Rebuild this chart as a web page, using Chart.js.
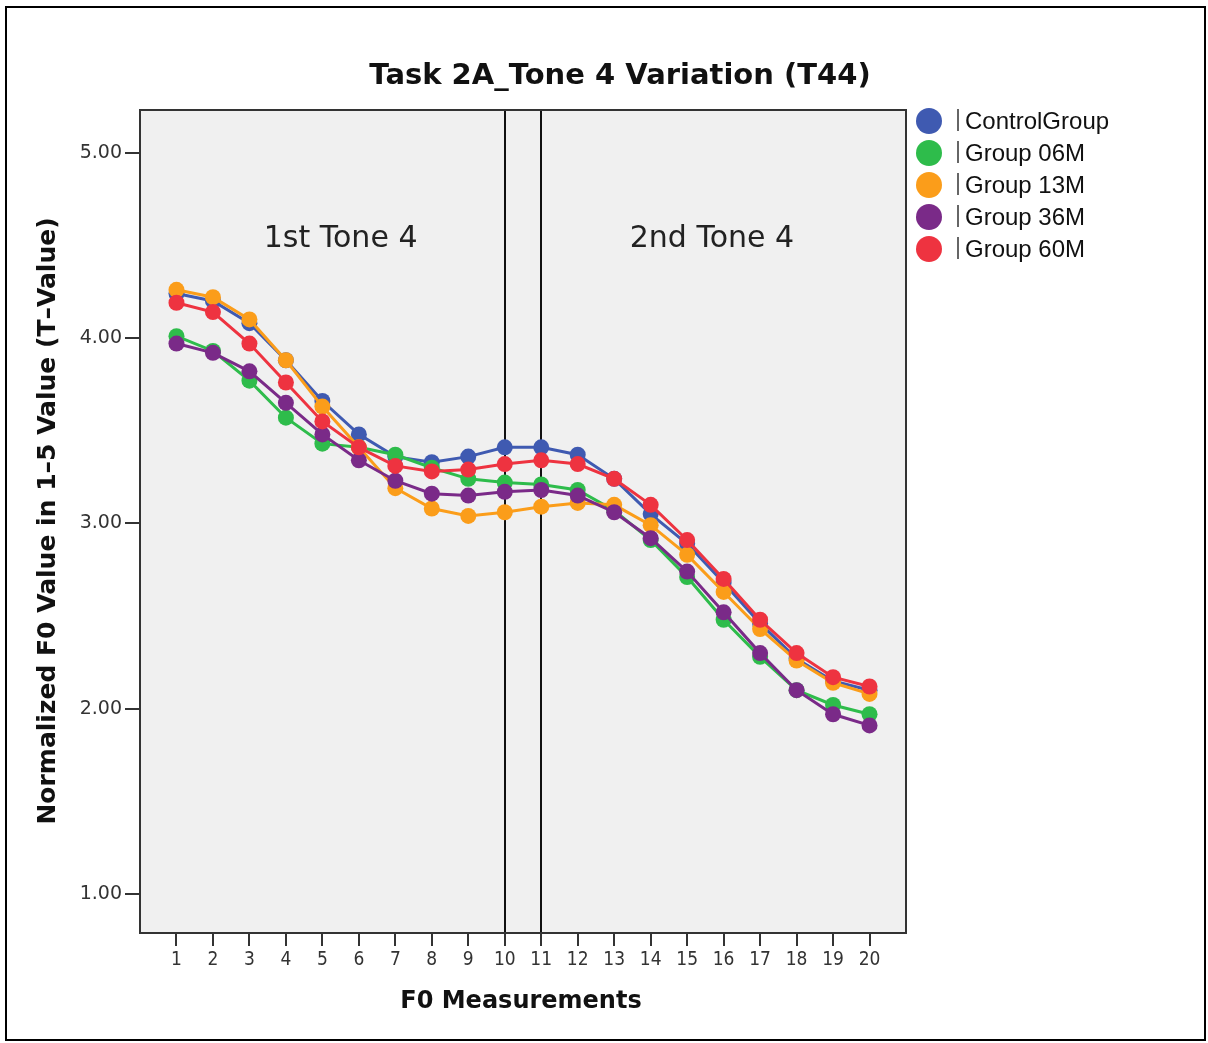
<!DOCTYPE html>
<html lang="en">
<head>
<meta charset="UTF-8">
<title>Task 2A_Tone 4 Variation (T44)</title>
<script src="https://cdn.jsdelivr.net/npm/chart.js"></script>
<style>
  body { margin: 0; background: #fff; }
  #wrap { width: 1208px; height: 1043px; }
</style>
</head>
<body>
<div id="wrap"><canvas id="tone_chart" width="1208" height="1043"></canvas></div>
<script>
// F0 measurement points along the two Tone 4 syllables
const measurements = [1, 2, 3, 4, 5, 6, 7, 8, 9, 10, 11, 12, 13, 14, 15, 16, 17, 18, 19, 20];

// normalized F0 (T-value) per group
const controlGroup = [4.24, 4.20, 4.08, 3.88, 3.66, 3.48, 3.36, 3.33, 3.36, 3.41, 3.41, 3.37, 3.24, 3.05, 2.89, 2.68, 2.46, 2.27, 2.15, 2.10];
const group06M     = [4.01, 3.93, 3.77, 3.57, 3.43, 3.41, 3.37, 3.30, 3.24, 3.22, 3.21, 3.18, 3.07, 2.91, 2.71, 2.48, 2.28, 2.10, 2.02, 1.97];
const group13M     = [4.26, 4.22, 4.10, 3.88, 3.63, 3.41, 3.19, 3.08, 3.04, 3.06, 3.09, 3.11, 3.10, 2.99, 2.83, 2.63, 2.43, 2.26, 2.14, 2.08];
const group36M     = [3.97, 3.92, 3.82, 3.65, 3.48, 3.34, 3.23, 3.16, 3.15, 3.17, 3.18, 3.15, 3.06, 2.92, 2.74, 2.52, 2.30, 2.10, 1.97, 1.91];
const group60M     = [4.19, 4.14, 3.97, 3.76, 3.55, 3.41, 3.31, 3.28, 3.29, 3.32, 3.34, 3.32, 3.24, 3.10, 2.91, 2.70, 2.48, 2.30, 2.17, 2.12];

const groupNames = ['ControlGroup', 'Group 06M', 'Group 13M', 'Group 36M', 'Group 60M'];
const groupColors = ['#3f5ab1', '#2ebc4b', '#fb9d1a', '#7a2a88', '#ee3340'];

const yTicks = [1, 2, 3, 4, 5];
const dividers = [10, 11]; // boundary between 1st and 2nd syllable
const sectionLabels = [
    { text: '1st Tone 4', x: 5.5, y: 4.535 },
    { text: '2nd Tone 4', x: 15.68, y: 4.535 }
];

const series = [controlGroup, group06M, group13M, group36M, group60M];

const datasets = series.map((values, i) => ({
    label: groupNames[i],
    data: values.map((v, j) => ({ x: measurements[j], y: v })),
    borderColor: groupColors[i],
    backgroundColor: groupColors[i],
    pointBackgroundColor: groupColors[i],
    pointBorderWidth: 0,
    pointRadius: 8,
    pointHoverRadius: 8,
    borderWidth: 3,
    tension: 0,
    order: series.length - i   // later groups drawn on top
}));

// background, frame, divider lines, titles and legend
const decorations = {
    id: 'decorations',
    beforeDraw(chart) {
        const { ctx, chartArea: a } = chart;
        ctx.save();
        ctx.fillStyle = '#fff';
        ctx.fillRect(0, 0, chart.width, chart.height);
        ctx.fillStyle = '#f0f0f0';
        ctx.fillRect(a.left, a.top, a.right - a.left, a.bottom - a.top);
        ctx.restore();
    },
    beforeDatasetsDraw(chart) {
        const { ctx, chartArea: a, scales } = chart;
        ctx.save();
        ctx.strokeStyle = '#111';
        ctx.lineWidth = 2;
        dividers.forEach(d => {
            const px = Math.round(scales.x.getPixelForValue(d));
            ctx.beginPath();
            ctx.moveTo(px, a.top);
            ctx.lineTo(px, a.bottom);
            ctx.stroke();
        });
        ctx.fillStyle = '#222';
        ctx.font = '30px "DejaVu Sans"';
        ctx.textAlign = 'center';
        ctx.textBaseline = 'middle';
        sectionLabels.forEach(s => {
            ctx.fillText(s.text, scales.x.getPixelForValue(s.x), scales.y.getPixelForValue(s.y));
        });
        ctx.restore();
    },
    afterDraw(chart) {
        const { ctx, chartArea: a } = chart;
        ctx.save();
        // plot frame
        ctx.strokeStyle = '#333';
        ctx.lineWidth = 2;
        ctx.strokeRect(a.left, a.top, a.right - a.left, a.bottom - a.top);
        // outer frame
        ctx.strokeStyle = '#000';
        ctx.strokeRect(6, 7, 1199, 1033);

        ctx.fillStyle = '#111';
        ctx.textAlign = 'center';
        ctx.textBaseline = 'middle';
        ctx.font = 'bold 29px "DejaVu Sans"';
        ctx.fillText('Task 2A_Tone 4 Variation (T44)', 620, 76);
        ctx.font = 'bold 24px "DejaVu Sans"';
        ctx.fillText('F0 Measurements', 521, 1002);
        ctx.translate(48, 521);
        ctx.rotate(-Math.PI / 2);
        ctx.font = 'bold 25px "DejaVu Sans"';
        ctx.fillText('Normalized F0 Value in 1\u20135 Value (T\u2013Value)', 0, 0);
        ctx.restore();

        // legend
        ctx.save();
        ctx.font = '24px "Liberation Sans"';
        ctx.textAlign = 'left';
        ctx.textBaseline = 'middle';
        chart.data.datasets.forEach((ds, i) => {
            const cy = 121 + i * 32;
            ctx.fillStyle = ds.backgroundColor;
            ctx.beginPath();
            ctx.arc(929, cy, 13, 0, Math.PI * 2);
            ctx.fill();
            ctx.strokeStyle = '#333';
            ctx.lineWidth = 1.5;
            ctx.beginPath();
            ctx.moveTo(958, cy - 12);
            ctx.lineTo(958, cy + 10);
            ctx.stroke();
            ctx.fillStyle = '#111';
            ctx.fillText(ds.label, 965, cy + 1);
        });
        ctx.restore();
    }
};

new Chart(document.getElementById('tone_chart'), {
    type: 'line',
    data: { datasets: datasets },
    options: {
        responsive: false,
        animation: false,
        events: [],
        layout: { padding: { left: 40, top: 110, right: 302, bottom: 40 } },
        plugins: {
            legend: { display: false },
            title: { display: false },
            tooltip: { enabled: false }
        },
        scales: {
            x: {
                type: 'linear',
                min: 0,
                max: 21,
                afterFit: scale => { scale.height = 70; },
                afterBuildTicks: scale => { scale.ticks = measurements.map(v => ({ value: v })); },
                grid: { drawOnChartArea: false, drawTicks: true, tickLength: 13, color: '#333', lineWidth: 2 },
                border: { display: true, color: '#333', width: 2 },
                ticks: {
                    autoSkip: false,
                    maxRotation: 0,
                    padding: 3,
                    color: '#333',
                    font: { family: 'DejaVu Sans Condensed', size: 19 }
                }
            },
            y: {
                type: 'linear',
                min: 0.79,
                max: 5.23,
                afterFit: scale => { scale.width = 100; },
                afterBuildTicks: scale => { scale.ticks = yTicks.map(v => ({ value: v })); },
                grid: { drawOnChartArea: false, drawTicks: true, tickLength: 15, color: '#333', lineWidth: 2 },
                border: { display: true, color: '#333', width: 2 },
                ticks: {
                    padding: 3,
                    color: '#333',
                    font: { family: 'DejaVu Sans', size: 19 },
                    callback: v => v.toFixed(2)
                }
            }
        }
    },
    plugins: [decorations]
});
</script>
</body>
</html>
